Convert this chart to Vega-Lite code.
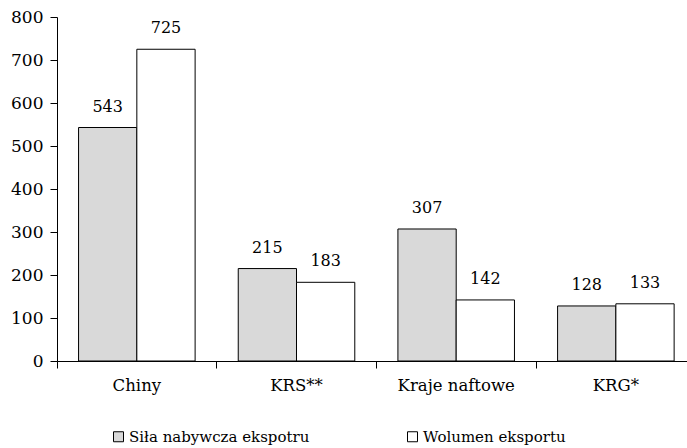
{
  "$schema": "https://vega.github.io/schema/vega-lite/v6.json",
  "width": 630,
  "height": 344,
  "autosize": "none",
  "padding": {"left": 57, "top": 17, "right": 0, "bottom": 87},
  "background": "white",
  "config": {
    "view": {"stroke": null},
    "font": "DejaVu Serif"
  },
  "data": {"values": [
    {"kraj": "Chiny", "seria": "Siła nabywcza ekspotru", "wartosc": 543},
    {"kraj": "Chiny", "seria": "Wolumen eksportu", "wartosc": 725},
    {"kraj": "KRS**", "seria": "Siła nabywcza ekspotru", "wartosc": 215},
    {"kraj": "KRS**", "seria": "Wolumen eksportu", "wartosc": 183},
    {"kraj": "Kraje naftowe", "seria": "Siła nabywcza ekspotru", "wartosc": 307},
    {"kraj": "Kraje naftowe", "seria": "Wolumen eksportu", "wartosc": 142},
    {"kraj": "KRG*", "seria": "Siła nabywcza ekspotru", "wartosc": 128},
    {"kraj": "KRG*", "seria": "Wolumen eksportu", "wartosc": 133}
  ]},
  "encoding": {
    "x": {
      "field": "kraj", "type": "nominal",
      "sort": ["Chiny", "KRS**", "Kraje naftowe", "KRG*"],
      "scale": {"range": [0, 638.7], "paddingInner": 0, "paddingOuter": 0},
      "axis": {
        "title": null, "labelAngle": 0, "bandPosition": 0,
        "tickSize": 7, "tickColor": "black", "domainColor": "black",
        "labelFontSize": 16.5, "labelColor": "black", "labelPadding": 9, "grid": false
      }
    },
    "xOffset": {
      "field": "seria", "type": "nominal",
      "scale": {"paddingInner": 0, "paddingOuter": 0.37}
    },
    "y": {
      "field": "wartosc", "type": "quantitative",
      "scale": {"domain": [0, 800], "nice": false},
      "axis": {
        "title": null, "values": [0, 100, 200, 300, 400, 500, 600, 700, 800],
        "tickSize": 7, "tickColor": "black", "domainColor": "black",
        "labelFontSize": 17, "labelColor": "black", "labelPadding": 7, "grid": false
      }
    }
  },
  "layer": [
    {
      "mark": {"type": "bar", "stroke": "black", "strokeWidth": 1},
      "encoding": {
        "color": {
          "field": "seria", "type": "nominal",
          "scale": {"domain": ["Siła nabywcza ekspotru", "Wolumen eksportu"], "range": ["#d9d9d9", "#ffffff"]},
          "legend": {
            "title": null, "orient": "none", "direction": "horizontal",
            "legendX": 54, "legendY": 412,
            "symbolType": "square", "symbolSize": 100, "symbolStrokeColor": "black", "symbolStrokeWidth": 1,
            "symbolOpacity": 1, "symbolOffset": 0,
            "labelFontSize": 15, "labelColor": "black", "labelOffset": 3,
            "columnPadding": 95, "labelLimit": 400
          }
        }
      }
    },
    {
      "mark": {"type": "text", "baseline": "alphabetic", "dy": -16, "fontSize": 16, "color": "black"},
      "encoding": {"text": {"field": "wartosc", "type": "quantitative"}}
    }
  ]
}
